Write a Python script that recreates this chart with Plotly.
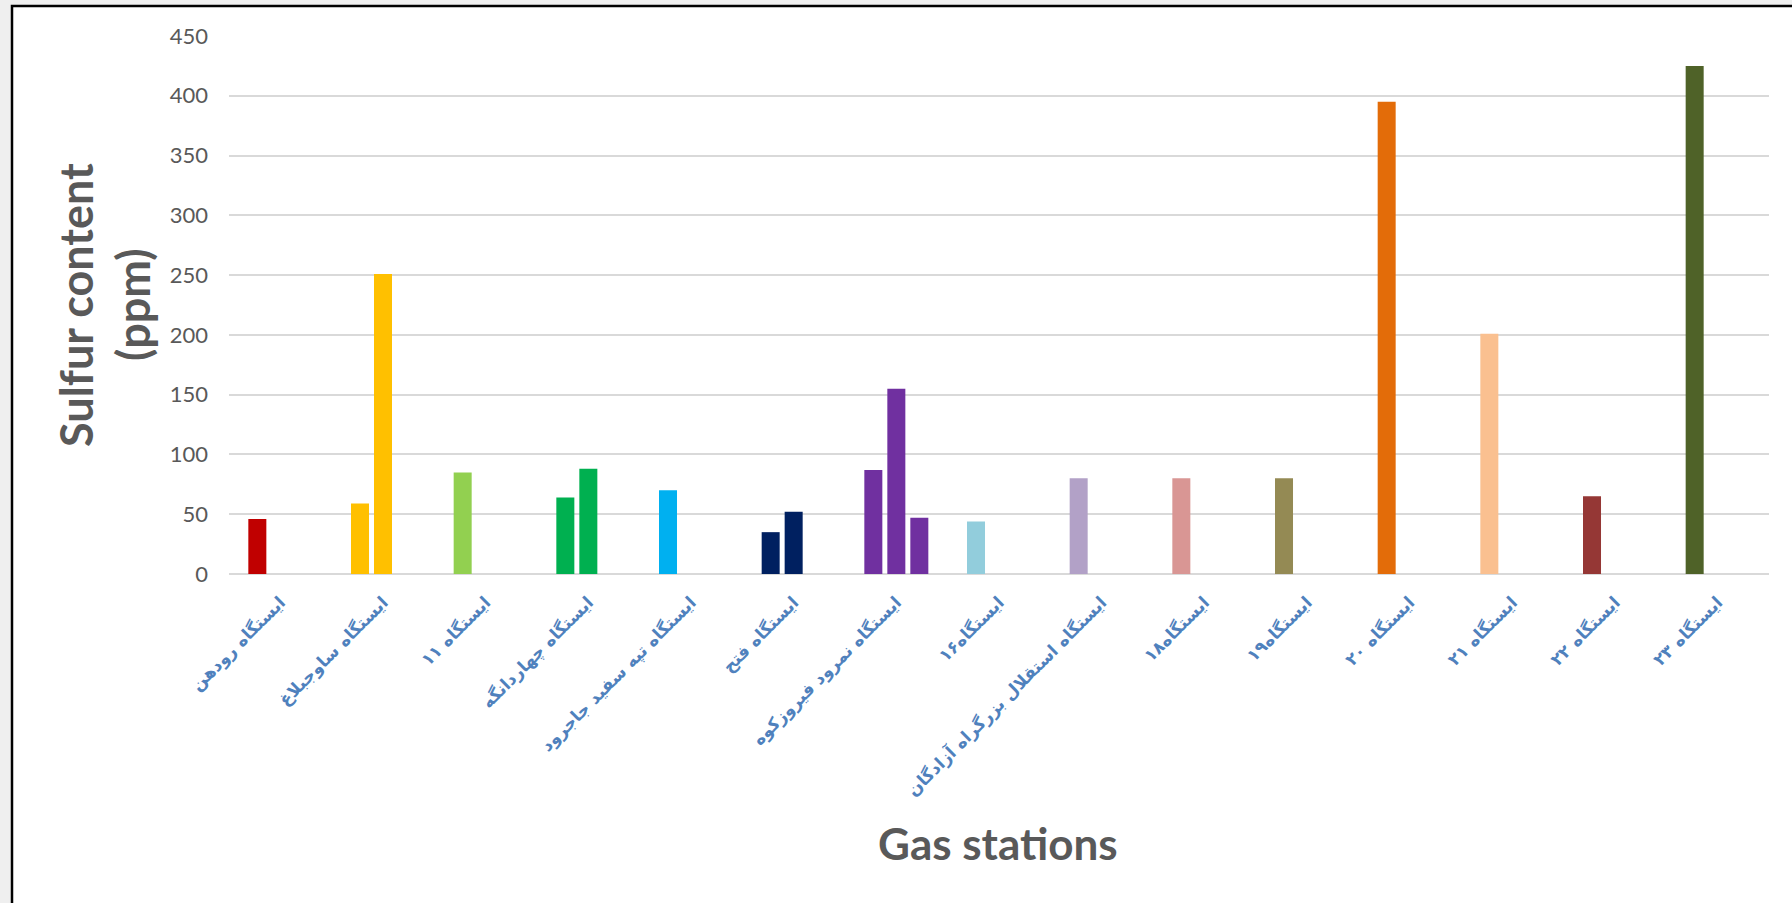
import plotly.graph_objects as go

# Gas stations (category axis) and the sulfur readings per sample
stations = [
    "ایستگاه رودهن",
    "ایستگاه ساوجبلاغ",
    "ایستگاه ۱۱",
    "ایستگاه چهاردانگه",
    "ایستگاه تپه سفید جاجرود",
    "ایستگاه فتح",
    "ایستگاه نمرود فیروزکوه",
    "ایستگاه۱۶",
    "ایستگاه استقلال بزرگراه آزادگان",
    "ایستگاه۱۸",
    "ایستگاه۱۹",
    "ایستگاه ۲۰",
    "ایستگاه ۲۱",
    "ایستگاه ۲۲",
    "ایستگاه ۲۳",
]

sample_1 = [46, 59, 85, 64, 70, 35, 87, 44, 80, 80, 80, 395, 201, 65, 425]
sample_2 = [None, 251, None, 88, None, 52, 155, None, None, None, None, None, None, None, None]
sample_3 = [None, None, None, None, None, None, 47, None, None, None, None, None, None, None, None]

station_colors = [
    "#C00000", "#FFC000", "#92D050", "#00B050", "#00B0F0",
    "#002060", "#7030A0", "#92CDDC", "#B2A1C7", "#D99694",
    "#948A54", "#E36C09", "#FAC090", "#953735", "#4F6228",
]

y_ticks = [0, 50, 100, 150, 200, 250, 300, 350, 400, 450]

fig = go.Figure()
for name, vals in (("1", sample_1), ("2", sample_2), ("3", sample_3)):
    fig.add_trace(go.Bar(
        x=stations, y=vals, name=name,
        marker=dict(color=station_colors, line=dict(width=0)),
        showlegend=False,
    ))

W, H = 1792, 903
L, R, T, B = 229, 23, 36, 329
pw, ph = W - L - R, H - T - B

def px_x(px):
    return (px - L) / pw

def px_y(py):
    return (H - B - py) / ph

fig.update_layout(
    width=W, height=H,
    margin=dict(l=L, r=R, t=T, b=B),
    barmode="group", bargap=0.328, bargroupgap=0.217,
    paper_bgcolor="#EFEFEF",
    plot_bgcolor="rgba(0,0,0,0)",
    font=dict(family="Lato", color="#595959"),
    xaxis=dict(
        type="category", tickangle=-45,
        tickfont=dict(family="DejaVu Sans", size=17, color="#4F81BD", weight="bold"),
        showgrid=False, showline=False, zeroline=False, ticks="",
        ticklabelstandoff=14,
    ),
    yaxis=dict(
        range=[0, 450], tickvals=y_ticks,
        tickfont=dict(family="Lato", size=22, color="#595959"),
        showgrid=True, gridcolor="#D9D9D9", gridwidth=2,
        zeroline=True, zerolinecolor="#D9D9D9", zerolinewidth=2,
        showline=False, ticks="", ticklabelstandoff=20,
    ),
    shapes=[dict(
        type="rect", xref="paper", yref="paper", layer="below",
        x0=px_x(12), x1=px_x(1830), y0=px_y(950), y1=px_y(6),
        fillcolor="white", line=dict(color="black", width=2.5),
    )],
    annotations=[
        dict(text="<b>Sulfur content</b>", xref="paper", yref="paper",
             x=px_x(76), y=0.5, textangle=-90, showarrow=False,
             xanchor="center", yanchor="middle",
             font=dict(family="Lato", size=45, color="#595959")),
        dict(text="<b>(ppm)</b>", xref="paper", yref="paper",
             x=px_x(133), y=0.5, textangle=-90, showarrow=False,
             xanchor="center", yanchor="middle",
             font=dict(family="Lato", size=45, color="#595959")),
        dict(text="<b>Gas stations</b>", xref="paper", yref="paper",
             x=px_x(998), y=px_y(843), showarrow=False,
             xanchor="center", yanchor="middle",
             font=dict(family="Lato", size=44, color="#595959")),
    ],
)

fig.write_html("out.html")
